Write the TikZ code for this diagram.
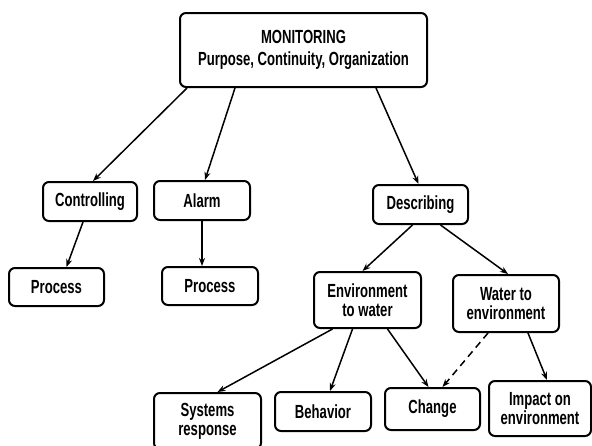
\documentclass[tikz,border=0pt]{standalone}
\usepackage{fontspec}
\newfontfamily\boxfont[FakeStretch=0.69]{Liberation Sans}
\usetikzlibrary{positioning}
\usetikzlibrary{arrows.meta}
\tikzset{
    mybox/.style = {rectangle, rounded corners=6pt, line width=2pt, draw=black, align=center, fill=white, inner sep=2pt, font=\boxfont\bfseries\fontsize{19}{19}\selectfont, text=black},
    edgea/.style = {-{Stealth[length=8pt,width=6pt]}, line width=1.5pt, black},
    edgead/.style = {-{Stealth[length=8pt,width=6pt]}, line width=1.5pt, black, dash pattern=on 7pt off 5pt}, % dashed link
}
\begin{document}
\begin{tikzpicture}[x=1pt,y=-1pt]
\useasboundingbox (0,0) rectangle (592,445);
\node[mybox, minimum width=247pt, minimum height=74pt] at (303.5, 50.0) (mon) {MONITORING\\[3pt]Purpose, Continuity, Organization};
\node[mybox, minimum width=94pt, minimum height=39pt] at ( 90.0, 201.5) (ctrl) {Controlling};
\node[mybox, minimum width=96pt, minimum height=39pt] at (202.0, 200.5) (alarm) {Alarm};
\node[mybox, minimum width=95pt, minimum height=38pt] at ( 56.5, 287.0) (proc1) {Process};
\node[mybox, minimum width=96pt, minimum height=38pt] at (210.0, 286.0) (proc2) {Process};
\node[mybox, minimum width=95pt, minimum height=39pt] at (420.5, 204.5) (desc) {Describing};
\node[mybox, minimum width=107pt, minimum height=56pt] at (367.5, 300.0) (envw) {Environment\\to water};
\node[mybox, minimum width=106pt, minimum height=57pt] at (506.0, 303.5) (watere) {Water to\\environment};
\node[mybox, minimum width=107pt, minimum height=56pt] at (207.5, 421.0) (sysr) {Systems\\response};
\node[mybox, minimum width=96pt, minimum height=39pt] at (323.0, 411.5) (behav) {Behavior};
\node[mybox, minimum width=95pt, minimum height=42pt] at (432.5, 409.0) (chng) {Change};
\node[mybox, minimum width=102pt, minimum height=55pt] at (540.0, 408.5) (impact) {Impact on\\environment};

\draw[edgea] ([xshift=8pt]mon.south west) -- ([xshift=3pt]ctrl.north);
\draw[edgea] ([xshift=56pt]mon.south west) -- ([xshift=3pt]alarm.north);
\draw[edgea] ([xshift=-52pt]mon.south east) -- ([xshift=-2pt]desc.north);
\draw[edgea] ([xshift=-7pt]ctrl.south) -- ([xshift=10pt]proc1.north);
\draw[edgea] (alarm.south) -- (alarm.south |- proc2.north);
\draw[edgea] ([xshift=-8pt]desc.south) -- ([xshift=-5pt]envw.north);
\draw[edgea] ([xshift=20pt]desc.south) -- ([xshift=2pt]watere.north);
\draw[edgea] ([xshift=-35pt]envw.south) -- ([xshift=10pt]sysr.north);
\draw[edgea] ([xshift=-15pt]envw.south) -- ([xshift=7pt]behav.north);
\draw[edgea] ([xshift=20pt]envw.south) -- ([xshift=-4pt]chng.north);
\draw[edgead] ([xshift=-18pt]watere.south) -- ([xshift=10pt]chng.north);
\draw[edgea] ([xshift=22pt]watere.south) -- ([xshift=7pt]impact.north);

\end{tikzpicture}
\end{document}
